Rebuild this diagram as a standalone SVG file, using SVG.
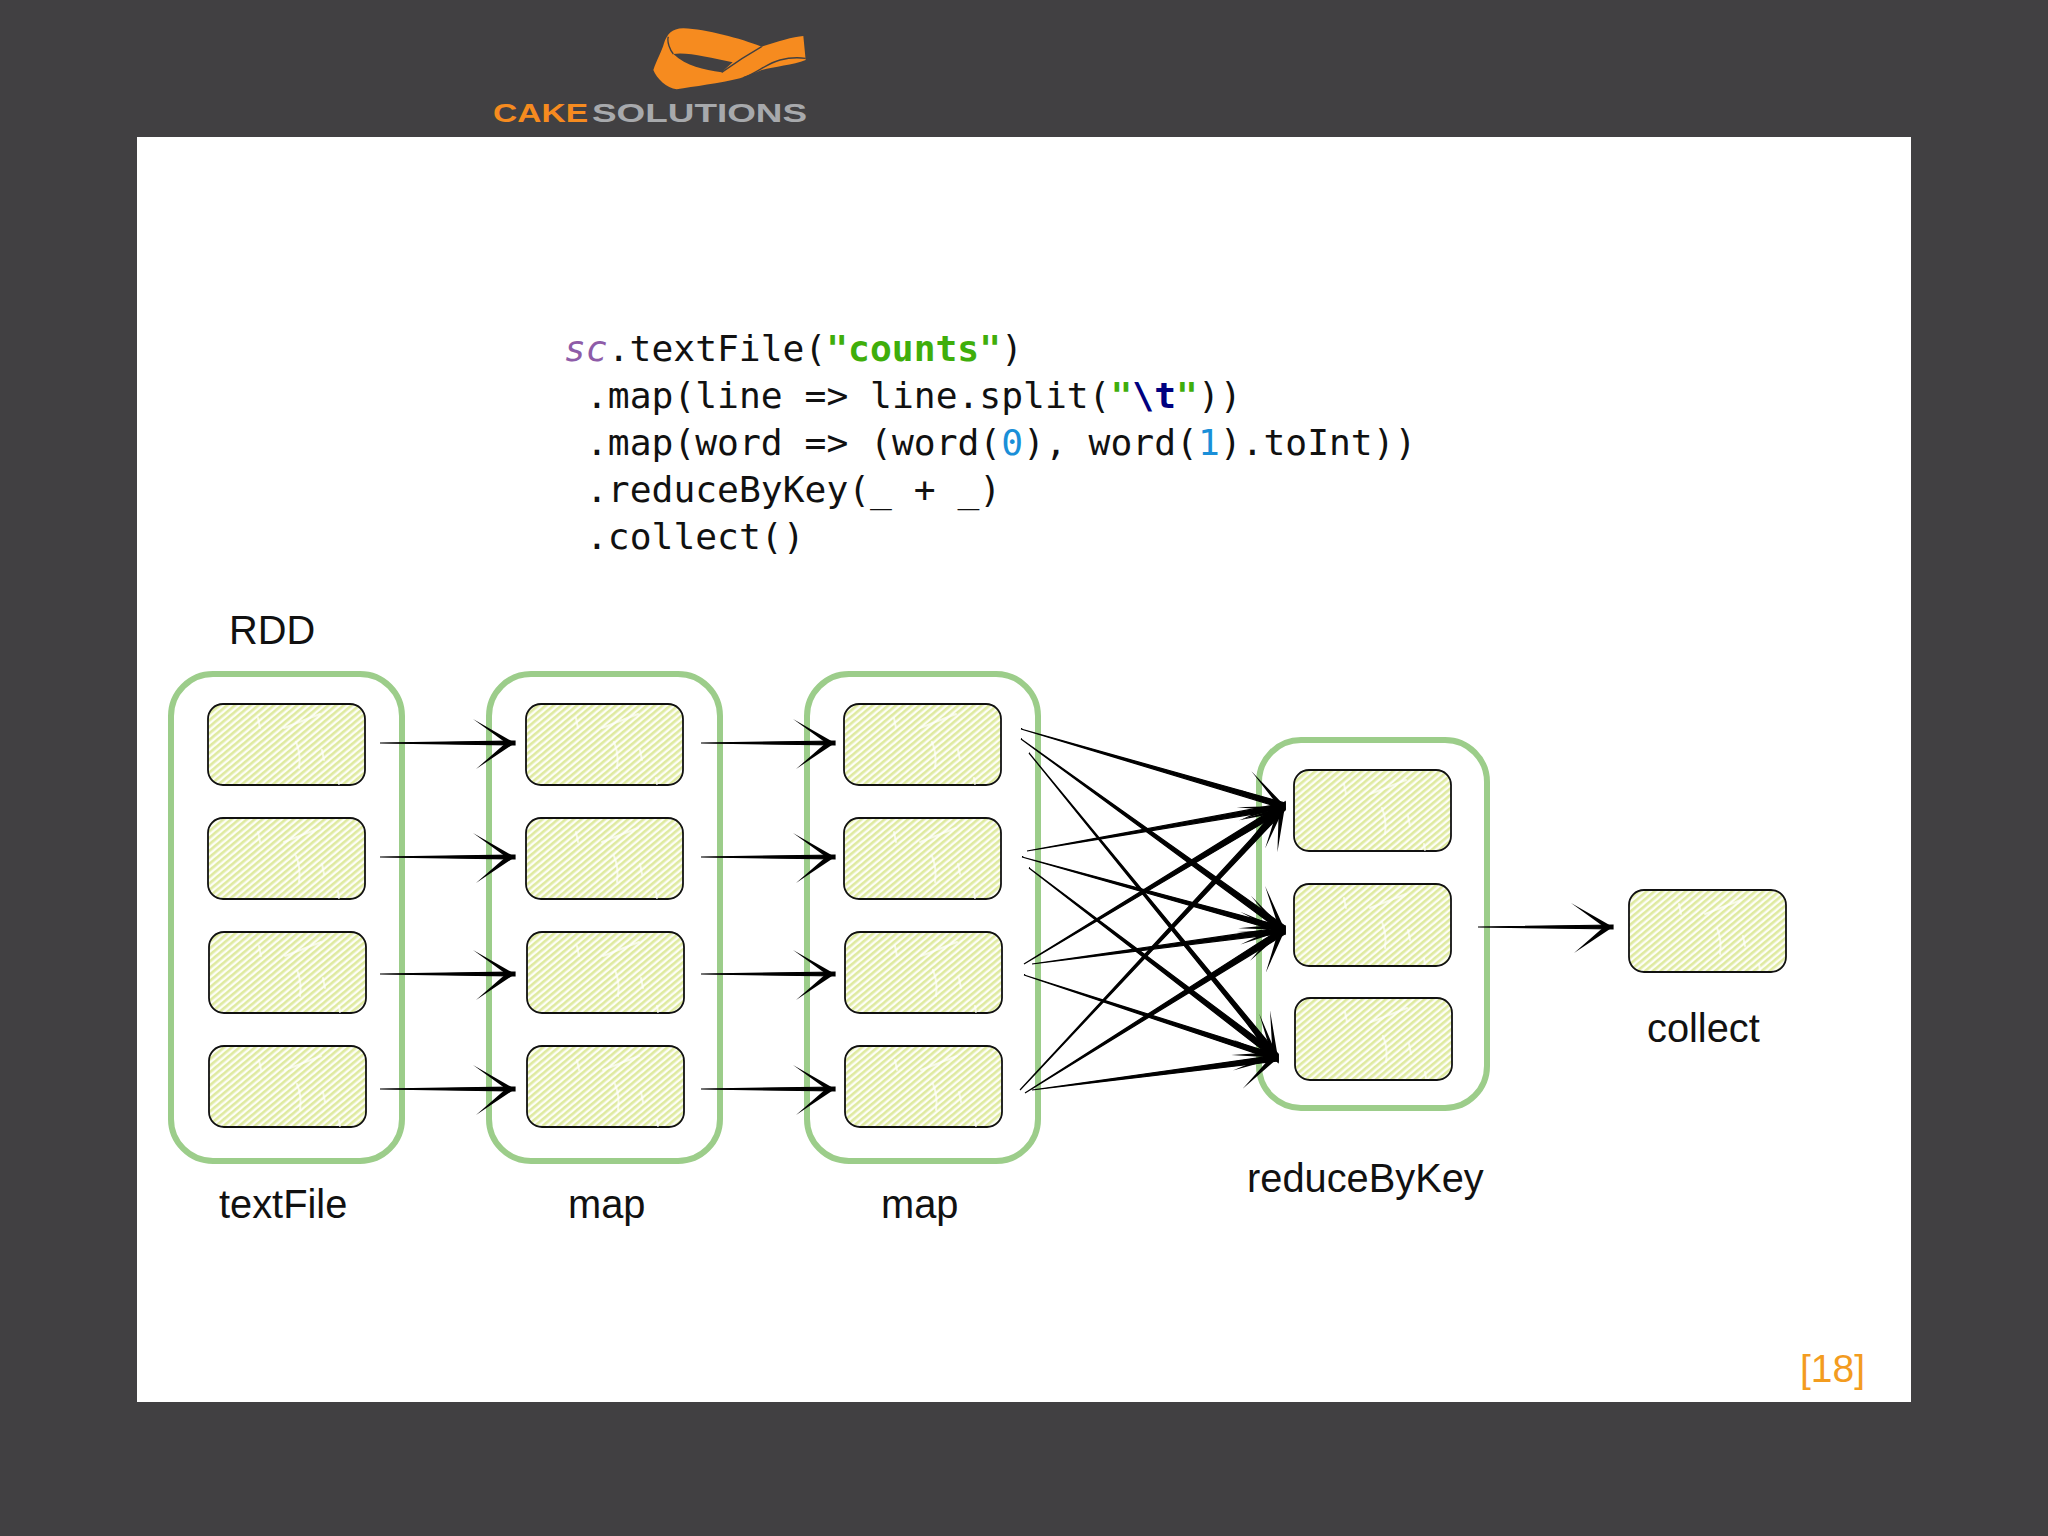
<svg xmlns="http://www.w3.org/2000/svg" width="2048" height="1536" viewBox="0 0 2048 1536">
<style>
.group{fill:none;stroke:#9ccd8a;stroke-width:6}
.box{fill:url(#hatch);stroke:#111;stroke-width:1.8}
.scratch{fill:none;stroke:#fff;stroke-width:2;stroke-linecap:round;opacity:.7}
.lbl{font-family:"Liberation Sans",Arial,sans-serif;font-size:39.8px;fill:#111}
.code{font-family:"DejaVu Sans Mono",monospace;font-size:36.3px;fill:#111}
.c{fill:#000;stroke:#000;stroke-width:1.2;marker-end:url(#head)}
</style>
<defs>
<pattern id="hatch" width="5" height="5" patternUnits="userSpaceOnUse" patternTransform="rotate(-40)">
<rect width="5" height="5" fill="#fdfef6"/>
<rect width="5" height="2.6" fill="#dfeaa0"/>
</pattern>
<marker id="head" markerUnits="userSpaceOnUse" viewBox="-46 -30 50 60" refX="0" refY="0" markerWidth="50" markerHeight="60" orient="auto">
<path d="M0 0L-42 -24L-11 -1.5L-11 1.5L-39 26Z" fill="#000"/>
</marker>
<path id="sc" class="scratch" d="M76 24L112 10M88 38Q93 50 91 64M114 46L116 56M130 74L131 80M50 14L52 24"/>
</defs>
<rect width="2048" height="1536" fill="#414042"/>
<rect x="137" y="137" width="1774" height="1265" fill="#fff"/>
<g id="logo">
<g transform="translate(460 10) scale(.33333)">
<path d="M580 180C590 150 605 125 612 100C620 75 635 55 670 55C740 58 840 85 905 110C950 95 1000 80 1030 78L1037 150C1000 165 940 170 905 180C880 190 860 198 840 205C780 220 700 230 650 238C620 235 590 205 580 180Z" fill="#f68b1f"/>
<path d="M640 132C680 125 750 143 818 157L785 187C730 178 680 170 640 132Z" fill="#414042"/>
<path d="M625 80C620 95 630 120 640 132M785 187C830 155 870 130 905 110M850 203C890 190 920 160 960 150C990 142 1015 142 1037 145" fill="none" stroke="#414042" stroke-width="4"/>
</g>
<text x="493" y="122" font-family="Liberation Sans,sans-serif" font-size="26" font-weight="bold" fill="#f68b1f" textLength="95" lengthAdjust="spacingAndGlyphs">CAKE</text>
<text x="592" y="122" font-family="Liberation Sans,sans-serif" font-size="26" font-weight="bold" fill="#a7a9ac" textLength="215" lengthAdjust="spacingAndGlyphs">SOLUTIONS</text>
</g>
<g id="code">
<text class="code" x="564" y="361"><tspan fill="#8e5ca8" font-style="italic">sc</tspan>.textFile(<tspan fill="#3fae0b" font-weight="bold">"counts"</tspan>)</text>
<text class="code" x="586" y="408">.map(line =&gt; line.split(<tspan fill="#3fae0b" font-weight="bold">"</tspan><tspan fill="#000080" font-weight="bold">\t</tspan><tspan fill="#3fae0b" font-weight="bold">"</tspan>))</text>
<text class="code" x="586" y="455">.map(word =&gt; (word(<tspan fill="#1a8fd8">0</tspan>), word(<tspan fill="#1a8fd8">1</tspan>).toInt))</text>
<text class="code" x="586" y="502">.reduceByKey(_ + _)</text>
<text class="code" x="586" y="549">.collect()</text>
</g>
<g id="textFile"><rect class="group" x="171" y="674" width="231" height="487" rx="42"/><text class="lbl" x="219" y="1218">textFile</text><text class="lbl" x="229" y="644">RDD</text></g>
<g id="map1"><rect class="group" x="489" y="674" width="231" height="487" rx="42"/><text class="lbl" x="568" y="1218">map</text></g>
<g id="map2"><rect class="group" x="807" y="674" width="231" height="487" rx="42"/><text class="lbl" x="881" y="1218">map</text></g>
<g id="reduceByKey"><rect class="group" x="1259" y="740" width="228" height="368" rx="42"/><text class="lbl" x="1247" y="1192">reduceByKey</text></g>
<g id="n1a"><rect class="box" x="208" y="704" width="157" height="81" rx="15"/><use href="#sc" x="208" y="704"/></g>
<g id="n1b"><rect class="box" x="208" y="818" width="157" height="81" rx="15"/><use href="#sc" x="208" y="818"/></g>
<g id="n1c"><rect class="box" x="209" y="932" width="157" height="81" rx="15"/><use href="#sc" x="209" y="932"/></g>
<g id="n1d"><rect class="box" x="209" y="1046" width="157" height="81" rx="15"/><use href="#sc" x="209" y="1046"/></g>
<g id="n2a"><rect class="box" x="526" y="704" width="157" height="81" rx="15"/><use href="#sc" x="526" y="704"/></g>
<g id="n2b"><rect class="box" x="526" y="818" width="157" height="81" rx="15"/><use href="#sc" x="526" y="818"/></g>
<g id="n2c"><rect class="box" x="527" y="932" width="157" height="81" rx="15"/><use href="#sc" x="527" y="932"/></g>
<g id="n2d"><rect class="box" x="527" y="1046" width="157" height="81" rx="15"/><use href="#sc" x="527" y="1046"/></g>
<g id="n3a"><rect class="box" x="844" y="704" width="157" height="81" rx="15"/><use href="#sc" x="844" y="704"/></g>
<g id="n3b"><rect class="box" x="844" y="818" width="157" height="81" rx="15"/><use href="#sc" x="844" y="818"/></g>
<g id="n3c"><rect class="box" x="845" y="932" width="157" height="81" rx="15"/><use href="#sc" x="845" y="932"/></g>
<g id="n3d"><rect class="box" x="845" y="1046" width="157" height="81" rx="15"/><use href="#sc" x="845" y="1046"/></g>
<g id="n4a"><rect class="box" x="1294" y="770" width="157" height="81" rx="15"/><use href="#sc" x="1294" y="770"/></g>
<g id="n4b"><rect class="box" x="1294" y="884" width="157" height="82" rx="15"/><use href="#sc" x="1294" y="884"/></g>
<g id="n4c"><rect class="box" x="1295" y="998" width="157" height="82" rx="15"/><use href="#sc" x="1295" y="998"/></g>
<g id="n5"><rect class="box" x="1629" y="890" width="157" height="82" rx="15"/><use href="#sc" x="1629" y="890"/><text class="lbl" x="1647" y="1042">collect</text></g>
<g id="connectors">
<path class="c" d="M380 743L515 741L515 745ZM380 743L515 743"/>
<path class="c" d="M380 857L515 855L515 859ZM380 857L515 857"/>
<path class="c" d="M380 974L515 972L515 976ZM380 974L515 974"/>
<path class="c" d="M380 1089L515 1087L515 1091ZM380 1089L515 1089"/>
<path class="c" d="M701 743L835 741L835 745ZM701 743L835 743"/>
<path class="c" d="M701 857L835 855L835 859ZM701 857L835 857"/>
<path class="c" d="M701 974L835 972L835 976ZM701 974L835 974"/>
<path class="c" d="M701 1089L835 1087L835 1091ZM701 1089L835 1089"/>
<path class="c" d="M1478 927L1613 925L1613 929ZM1478 927L1613 927"/>
<path class="c" d="M1021 729L1285 803L1285 809ZM1021 729L1285 806"/>
<path class="c" d="M1021 739L1285 926L1285 934ZM1021 739L1285 930"/>
<path class="c" d="M1029 753L1278 1054L1278 1062ZM1029 753L1278 1058"/>
<path class="c" d="M1027 851L1285 803L1285 809ZM1027 851L1285 806"/>
<path class="c" d="M1022 857L1285 927L1285 933ZM1022 857L1285 930"/>
<path class="c" d="M1029 868L1278 1054L1278 1062ZM1029 868L1278 1058"/>
<path class="c" d="M1024 964L1285 802L1285 810ZM1024 964L1285 806"/>
<path class="c" d="M1032 964L1285 927L1285 933ZM1032 964L1285 930"/>
<path class="c" d="M1024 975L1278 1055L1278 1061ZM1024 975L1278 1058"/>
<path class="c" d="M1020 1090L1285 802L1285 810ZM1020 1090L1285 806"/>
<path class="c" d="M1025 1093L1285 926L1285 934ZM1025 1093L1285 930"/>
<path class="c" d="M1032 1090L1278 1055L1278 1061ZM1032 1090L1278 1058"/>
</g>
<text id="page" x="1800" y="1382" font-family="Liberation Sans,sans-serif" font-size="39" fill="#f39c1f">[18]</text>
</svg>
